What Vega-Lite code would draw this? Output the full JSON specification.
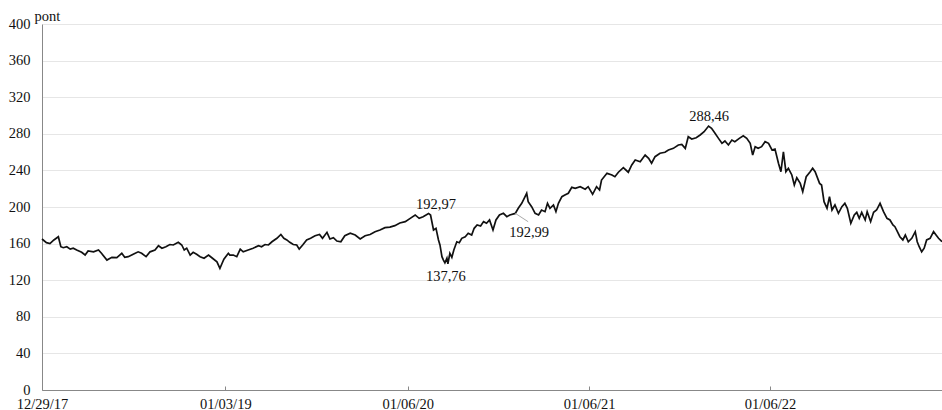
{
  "$schema": "https://vega.github.io/schema/vega-lite/v6.json",
  "width": 900,
  "height": 366,
  "autosize": {"type": "none"},
  "padding": {"left": 42, "top": 24, "right": 0, "bottom": 20},
  "background": "white",
  "config": {"view": {"stroke": null}, "font": "Liberation Serif"},
  "datasets": {
    "series": [
      {"d":"2017-12-29","v":165},{"d":"2018-01-07","v":161},{"d":"2018-01-14","v":160},{"d":"2018-01-22","v":164},{"d":"2018-01-31","v":167.5},{"d":"2018-02-05","v":156.6},{"d":"2018-02-10","v":155.5},{"d":"2018-02-17","v":156.6},{"d":"2018-02-24","v":154},{"d":"2018-03-02","v":155},{"d":"2018-03-09","v":153},{"d":"2018-03-19","v":150.5},{"d":"2018-03-26","v":147.5},{"d":"2018-04-01","v":152},{"d":"2018-04-12","v":151},{"d":"2018-04-22","v":153},{"d":"2018-04-28","v":149.4},{"d":"2018-05-09","v":142},{"d":"2018-05-19","v":145},{"d":"2018-05-29","v":144.6},{"d":"2018-06-08","v":149.4},{"d":"2018-06-14","v":145},{"d":"2018-06-21","v":145.7},{"d":"2018-07-01","v":148.3},{"d":"2018-07-11","v":151},{"d":"2018-07-18","v":149.4},{"d":"2018-07-27","v":145.7},{"d":"2018-08-04","v":151},{"d":"2018-08-14","v":153},{"d":"2018-08-21","v":157.7},{"d":"2018-08-28","v":155},{"d":"2018-09-05","v":156.6},{"d":"2018-09-13","v":159},{"d":"2018-09-20","v":158.5},{"d":"2018-09-30","v":161.4},{"d":"2018-10-07","v":158.5},{"d":"2018-10-12","v":153},{"d":"2018-10-17","v":155},{"d":"2018-10-24","v":147.5},{"d":"2018-10-30","v":150.5},{"d":"2018-11-06","v":148.3},{"d":"2018-11-13","v":145.7},{"d":"2018-11-21","v":144},{"d":"2018-11-30","v":147.5},{"d":"2018-12-08","v":144},{"d":"2018-12-17","v":140},{"d":"2018-12-23","v":133},{"d":"2018-12-27","v":138},{"d":"2018-12-31","v":143},
      {"d":"2019-01-09","v":149.4},{"d":"2019-01-12","v":147.5},{"d":"2019-01-19","v":147.5},{"d":"2019-01-26","v":145.7},{"d":"2019-02-02","v":154},{"d":"2019-02-08","v":151},{"d":"2019-02-18","v":153},{"d":"2019-02-28","v":155},{"d":"2019-03-11","v":157.7},{"d":"2019-03-17","v":156.6},{"d":"2019-03-24","v":159},{"d":"2019-03-31","v":158.5},{"d":"2019-04-07","v":162},{"d":"2019-04-17","v":165.8},{"d":"2019-04-25","v":170},{"d":"2019-05-01","v":165.8},{"d":"2019-05-07","v":164},{"d":"2019-05-13","v":161.4},{"d":"2019-05-20","v":159},{"d":"2019-05-27","v":158.5},{"d":"2019-06-01","v":154},{"d":"2019-06-08","v":158.5},{"d":"2019-06-16","v":164},{"d":"2019-06-24","v":165.8},{"d":"2019-07-03","v":168.6},{"d":"2019-07-12","v":170},{"d":"2019-07-18","v":165.8},{"d":"2019-07-27","v":172.3},{"d":"2019-08-02","v":165},{"d":"2019-08-09","v":166.5},{"d":"2019-08-16","v":162.8},{"d":"2019-08-24","v":162},{"d":"2019-09-01","v":168.6},{"d":"2019-09-12","v":171.3},{"d":"2019-09-22","v":169.4},{"d":"2019-10-02","v":165},{"d":"2019-10-12","v":168.6},{"d":"2019-10-22","v":170},{"d":"2019-11-01","v":173},{"d":"2019-11-11","v":174.9},{"d":"2019-11-21","v":177.4},{"d":"2019-12-01","v":178},{"d":"2019-12-11","v":179.6},{"d":"2019-12-21","v":182.5},
      {"d":"2020-01-01","v":184},{"d":"2020-01-11","v":187.6},{"d":"2020-01-21","v":191.3},{"d":"2020-01-29","v":187.6},{"d":"2020-02-06","v":189.4},{"d":"2020-02-17","v":192.97},{"d":"2020-02-21","v":191.3},{"d":"2020-02-27","v":174.9},{"d":"2020-03-03","v":176.7},{"d":"2020-03-08","v":164},{"d":"2020-03-11","v":158.5},{"d":"2020-03-15","v":145.7},{"d":"2020-03-18","v":142},{"d":"2020-03-21","v":139},{"d":"2020-03-25","v":144},{"d":"2020-03-27","v":137.76},{"d":"2020-03-31","v":149.4},{"d":"2020-04-04","v":145},{"d":"2020-04-08","v":153},{"d":"2020-04-14","v":162},{"d":"2020-04-19","v":161},{"d":"2020-04-24","v":165.8},{"d":"2020-05-01","v":167.5},{"d":"2020-05-07","v":171.3},{"d":"2020-05-14","v":169.4},{"d":"2020-05-19","v":176.7},{"d":"2020-05-25","v":180.3},{"d":"2020-06-01","v":179.2},{"d":"2020-06-07","v":184},{"d":"2020-06-13","v":182.2},{"d":"2020-06-19","v":185.8},{"d":"2020-06-26","v":174.9},{"d":"2020-07-02","v":185.8},{"d":"2020-07-09","v":191.3},{"d":"2020-07-17","v":193.1},{"d":"2020-07-24","v":189.4},{"d":"2020-07-30","v":191.3},{"d":"2020-08-10","v":192.99},{"d":"2020-08-16","v":198.6},{"d":"2020-08-23","v":204},{"d":"2020-08-28","v":209.5},{"d":"2020-09-02","v":215},{"d":"2020-09-05","v":205.8},{"d":"2020-09-12","v":200.3},{"d":"2020-09-19","v":193.1},{"d":"2020-09-26","v":191.3},{"d":"2020-10-02","v":196.7},{"d":"2020-10-09","v":194.9},{"d":"2020-10-14","v":204},{"d":"2020-10-19","v":198.6},{"d":"2020-10-26","v":202.2},{"d":"2020-10-31","v":194.9},{"d":"2020-11-05","v":204},{"d":"2020-11-12","v":211.3},{"d":"2020-11-18","v":213.1},{"d":"2020-11-25","v":215},{"d":"2020-12-02","v":221.5},{"d":"2020-12-09","v":220.4},{"d":"2020-12-19","v":222.2},{"d":"2020-12-29","v":219.5},
      {"d":"2021-01-04","v":222.2},{"d":"2021-01-13","v":213.9},{"d":"2021-01-21","v":222.2},{"d":"2021-01-27","v":218.6},{"d":"2021-01-31","v":229.5},{"d":"2021-02-11","v":236.8},{"d":"2021-02-21","v":235},{"d":"2021-02-27","v":233.1},{"d":"2021-03-06","v":238},{"d":"2021-03-16","v":243},{"d":"2021-03-26","v":238},{"d":"2021-04-02","v":245.9},{"d":"2021-04-09","v":251.4},{"d":"2021-04-19","v":249.5},{"d":"2021-04-29","v":256.8},{"d":"2021-05-06","v":253.2},{"d":"2021-05-12","v":247.8},{"d":"2021-05-19","v":255},{"d":"2021-05-29","v":258.7},{"d":"2021-06-08","v":259.8},{"d":"2021-06-15","v":262.3},{"d":"2021-06-25","v":264.1},{"d":"2021-07-05","v":267.8},{"d":"2021-07-12","v":268.5},{"d":"2021-07-19","v":264.1},{"d":"2021-07-25","v":276.8},{"d":"2021-08-01","v":274.3},{"d":"2021-08-10","v":275.7},{"d":"2021-08-18","v":278.7},{"d":"2021-08-26","v":282.3},{"d":"2021-09-04","v":288.46},{"d":"2021-09-10","v":286},{"d":"2021-09-17","v":280.5},{"d":"2021-09-24","v":275},{"d":"2021-10-01","v":269.6},{"d":"2021-10-07","v":272.1},{"d":"2021-10-14","v":267.8},{"d":"2021-10-21","v":273.2},{"d":"2021-10-27","v":271.4},{"d":"2021-11-05","v":275},{"d":"2021-11-13","v":277.9},{"d":"2021-11-20","v":275},{"d":"2021-11-27","v":269.6},{"d":"2021-12-02","v":256.8},{"d":"2021-12-07","v":265.9},{"d":"2021-12-13","v":264.1},{"d":"2021-12-20","v":265.9},{"d":"2021-12-27","v":271.4},
      {"d":"2022-01-03","v":269.6},{"d":"2022-01-10","v":262.3},{"d":"2022-01-16","v":263.4},{"d":"2022-01-23","v":247.8},{"d":"2022-01-28","v":238.6},{"d":"2022-02-02","v":260.4},{"d":"2022-02-07","v":238.6},{"d":"2022-02-12","v":242.3},{"d":"2022-02-19","v":235},{"d":"2022-02-24","v":224},{"d":"2022-03-01","v":232},{"d":"2022-03-08","v":225.8},{"d":"2022-03-13","v":216.7},{"d":"2022-03-20","v":233.1},{"d":"2022-03-28","v":238.6},{"d":"2022-04-02","v":242.3},{"d":"2022-04-07","v":238.6},{"d":"2022-04-16","v":225.8},{"d":"2022-04-20","v":224},{"d":"2022-04-25","v":205.8},{"d":"2022-05-01","v":198.6},{"d":"2022-05-06","v":211.3},{"d":"2022-05-11","v":196.7},{"d":"2022-05-17","v":202.2},{"d":"2022-05-24","v":193.1},{"d":"2022-05-31","v":200.3},{"d":"2022-06-06","v":204},{"d":"2022-06-11","v":198.6},{"d":"2022-06-18","v":182.2},{"d":"2022-06-25","v":191.3},{"d":"2022-06-30","v":194.2},{"d":"2022-07-05","v":187.6},{"d":"2022-07-10","v":194.2},{"d":"2022-07-17","v":185.8},{"d":"2022-07-21","v":194.9},{"d":"2022-07-28","v":184},{"d":"2022-08-03","v":194.2},{"d":"2022-08-09","v":196.7},{"d":"2022-08-16","v":204},{"d":"2022-08-23","v":194.9},{"d":"2022-08-30","v":187.6},{"d":"2022-09-05","v":185.8},{"d":"2022-09-11","v":180.3},{"d":"2022-09-15","v":178.5},{"d":"2022-09-20","v":173},{"d":"2022-09-25","v":167.5},{"d":"2022-10-01","v":164},{"d":"2022-10-06","v":169.4},{"d":"2022-10-12","v":162},{"d":"2022-10-19","v":165.8},{"d":"2022-10-26","v":173},{"d":"2022-10-30","v":162},{"d":"2022-11-03","v":156.6},{"d":"2022-11-08","v":151},{"d":"2022-11-13","v":155},{"d":"2022-11-18","v":164},{"d":"2022-11-25","v":165.8},{"d":"2022-12-02","v":173},{"d":"2022-12-07","v":169.4},{"d":"2022-12-12","v":165.8},{"d":"2022-12-19","v":162}
    ],
    "labels": [
      {"d":"2020-03-03","v":202.7,"t":"192,97"},
      {"d":"2020-03-23","v":123.8,"t":"137,76"},
      {"d":"2020-09-07","v":171.3,"t":"192,99"},
      {"d":"2021-09-05","v":298.4,"t":"288,46"}
    ],
    "leader": [
      {"d":"2020-08-10","v":193.1,"d2":"2020-09-05","v2":183.9}
    ]
  },
  "encoding": {
    "x": {
      "field": "d", "type": "temporal",
      "scale": {"type": "utc", "domain": [{"year":2017,"month":12,"date":29,"utc":true},{"year":2022,"month":12,"date":19,"utc":true}]},
      "axis": {
        "title": null,
        "values": [{"year":2017,"month":12,"date":29,"utc":true},{"year":2019,"month":1,"date":3,"utc":true},{"year":2020,"month":1,"date":6,"utc":true},{"year":2021,"month":1,"date":6,"utc":true},{"year":2022,"month":1,"date":6,"utc":true}],
        "tickCount": 20,
        "format": "%m/%d/%y",
        "grid": false,
        "domainColor": "#888888",
        "tickColor": "#888888",
        "tickSize": -4,
        "labelPadding": 11,
        "labelFontSize": 14.5,
        "labelColor": "#111111",
        "labelFont": "Liberation Serif",
        "labelFlush": false,
        "labelOverlap": false
      }
    },
    "y": {
      "field": "v", "type": "quantitative",
      "scale": {"domain": [0, 400], "nice": false},
      "axis": {
        "title": "pont",
        "titleAngle": 0,
        "titleAlign": "left",
        "titleBaseline": "alphabetic",
        "titleX": -8,
        "titleY": -4,
        "titleFontSize": 14.5,
        "titleFontWeight": "normal",
        "titleFont": "Liberation Serif",
        "titleColor": "#111111",
        "values": [0,40,80,120,160,200,240,280,320,360,400],
        "tickCount": 30,
        "labelOverlap": false,
        "grid": true,
        "gridColor": "#e6e6e6",
        "ticks": false,
        "domainColor": "#888888",
        "labelPadding": 12,
        "labelFontSize": 14.5,
        "labelColor": "#111111",
        "labelFont": "Liberation Serif"
      }
    }
  },
  "layer": [
    {
      "data": {"name": "series"},
      "mark": {"type": "line", "color": "#111111", "strokeWidth": 1.7}
    },
    {
      "data": {"name": "leader"},
      "mark": {"type": "rule", "color": "#aaaaaa", "strokeWidth": 1},
      "encoding": {
        "x2": {"field": "d2"},
        "y2": {"field": "v2"}
      }
    },
    {
      "data": {"name": "labels"},
      "mark": {"type": "text", "font": "Liberation Serif", "fontSize": 14.5, "color": "#111111", "align": "center", "baseline": "middle"},
      "encoding": {
        "text": {"field": "t"}
      }
    }
  ]
}
